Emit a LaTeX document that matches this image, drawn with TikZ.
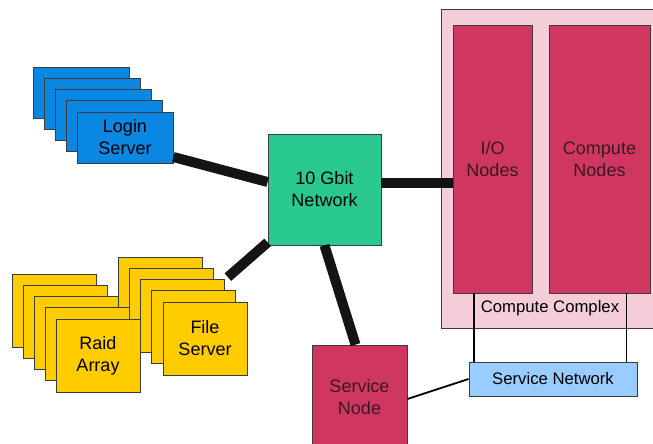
\documentclass[tikz,border=0pt]{standalone}
\usepackage{fontspec}
\setmainfont{Liberation Sans}
\usepackage{xcolor}
\usepackage{tikz}

\definecolor{loginblue}{RGB}{10,134,227}
\definecolor{storeyellow}{RGB}{255,204,0}
\definecolor{netgreen}{RGB}{41,201,143}
\definecolor{nodered}{RGB}{207,55,97}
\definecolor{complexpink}{RGB}{244,205,217}
\definecolor{svcblue}{RGB}{153,204,255}
\definecolor{boxline}{RGB}{60,60,60}
\definecolor{nodetext}{RGB}{58,24,34}

\begin{document}
\begin{tikzpicture}[x=1pt, y=1pt,
            box/.style={draw=boxline, line width=0.8pt, align=center, inner sep=0pt, font=\fontsize{18}{22}\selectfont}, % plain box, centred text
            smalltext/.style={font=\fontsize{16.7}{20}\selectfont}, % labels of the complex and service net
            login/.style={box, fill=loginblue, minimum width=96pt, minimum height=51pt},
            store/.style={box, fill=storeyellow, minimum width=84pt, minimum height=73pt},
            crimson/.style={box, fill=nodered, text=nodetext},
            trunk/.style={line width=10pt, draw=black, draw opacity=0.92}, % thick 10 Gbit links
            link/.style={line width=1.8pt, draw=black} % thin service links
            ]

        \clip (0,0) rectangle (653,444);

        % login servers, stacked
        \foreach \i in {0,...,3}
            \node[login] (login\i) at (81+11*\i, 351.5-11.25*\i) {};
        \node[login] (login) at (125, 306.5) {Login\\Server};

        % file servers behind the raid arrays
        \foreach \i in {0,...,3}
            \node[store] (file\i) at (160+11.25*\i, 150.5-11.25*\i) {};
        \node[store] (file) at (205, 105.5) {File\\Server};

        \foreach \i in {0,...,3}
            \node[store] (raid\i) at (54+11*\i, 133.5-11.25*\i) {};
        \node[store] (raid) at (98, 88.5) {Raid\\Array};

        % network switch
        \node[box, fill=netgreen, minimum width=113pt, minimum height=111pt] (net) at (324.5, 254.5) {10 Gbit\\Network};

        % compute complex
        \node[draw=boxline, line width=0.8pt, fill=complexpink, minimum width=224pt, minimum height=319pt] (complex) at (553, 275.5) {};
        \node[smalltext] (complexlabel) at (550, 136) {Compute Complex};
        \node[crimson, minimum width=79pt, minimum height=268pt] (io) at (492.5, 285) {I/O\\Nodes};
        \node[crimson, minimum width=101pt, minimum height=268pt] (compute) at (599.5, 285) {Compute\\Nodes};

        % service side
        \node[box, smalltext, fill=svcblue, minimum width=168pt, minimum height=34pt] (svcnet) at (553, 65) {Service Network};
        \node[crimson, minimum width=95pt, minimum height=104pt] (svcnode) at (359.5, 47) {Service\\Node};

        % thick links to the switch
        \draw[trunk] ([yshift=-19.5pt]login.east) -- ([yshift=7.5pt]net.west);
        \draw[trunk] ([yshift=6.5pt]net.east) -- ([yshift=6.5pt]net.east -| io.west);
        \draw[trunk] ([shift={(3pt,2pt)}]file2.north east) -- ([yshift=3pt]net.south west);
        \draw[trunk] (net.south) -- ([xshift=-4pt]svcnode.north);

        % service network links
        \draw[link] ([xshift=21pt]io.south west) -- ([xshift=21pt]io.south west |- svcnet.north);
        \draw[link] ([xshift=-24pt]compute.south east) -- ([xshift=-24pt]compute.south east |- svcnet.north);
        \draw[link] ([yshift=-2pt]svcnode.east) -- (svcnet.west);

\end{tikzpicture}
\end{document}
